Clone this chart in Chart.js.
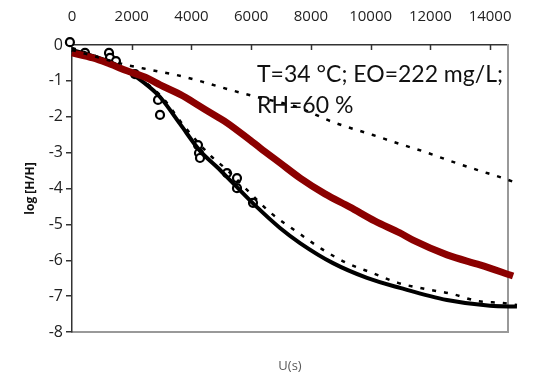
<!DOCTYPE html>
<html>
<head>
<meta charset="utf-8">
<script src="https://cdn.jsdelivr.net/npm/chart.js@4"></script>
<style>
  html, body { margin: 0; padding: 0; background: #fff; }
  #box { width: 549px; height: 379px; }
</style>
</head>
<body>
<div id="box"><canvas id="myChart"></canvas></div>
<script>
// x tick labels (top axis)
const xTicks = [0, 2000, 4000, 6000, 8000, 10000, 12000, 14000];

// model 1 (dark red band)
const redTime = [0, 700, 1270, 1840, 2510, 2950, 3720, 4050, 4860, 5190, 5960, 6300, 6970, 7640, 8470, 9310, 10150, 10980, 11420, 12560, 13660, 14770];
const redLog  = [-0.22, -0.36, -0.53, -0.72, -0.92, -1.11, -1.42, -1.59, -2.0, -2.17, -2.65, -2.87, -3.29, -3.71, -4.15, -4.52, -4.91, -5.24, -5.44, -5.85, -6.13, -6.44];

// model 2 (black solid)
const blackTime = [0, 603, 1272, 1842, 2378, 2947, 3617, 4286, 4855, 5391, 6195, 6965, 7635, 8740, 9878, 10983, 12557, 13997, 14901];
const blackLog  = [-0.14, -0.28, -0.47, -0.72, -1.03, -1.45, -2.20, -2.95, -3.40, -3.85, -4.52, -5.10, -5.52, -6.08, -6.49, -6.77, -7.11, -7.27, -7.29];

// dashed curve, upper
const dashATime = [0, 938, 1842, 2679, 3516, 4387, 5291, 6195, 7534, 8740, 10079, 10983, 11821, 12658, 13562, 14432, 14901];
const dashALog  = [-0.14, -0.36, -0.56, -0.70, -0.84, -1.03, -1.25, -1.45, -1.73, -2.15, -2.51, -2.76, -2.98, -3.23, -3.48, -3.71, -3.85];

// dashed curve, lower
const dashBTime = [0, 938, 1842, 2947, 3784, 4621, 5190, 5860, 6630, 7534, 8372, 9209, 10079, 10916, 11821, 12725, 13595, 14432, 14901];
const dashBLog  = [-0.08, -0.36, -0.72, -1.39, -2.29, -3.07, -3.48, -4.04, -4.66, -5.21, -5.69, -6.08, -6.36, -6.63, -6.80, -6.94, -7.14, -7.19, -7.25];

// measured points (open circles)
const obsTime = [-70, 435, 1239, 1272, 1473, 2110, 2880, 2947, 4219, 4253, 4286, 5190, 5525, 5525, 6061];
const obsLog  = [0.08, -0.22, -0.22, -0.36, -0.45, -0.81, -1.53, -1.95, -2.79, -3.01, -3.15, -3.57, -3.71, -3.99, -4.40];

function pairs(xs, ys) {
    return xs.map(function (x, i) { return { x: x, y: ys[i] }; });
}

// inside tick marks on the top axis + the condition text
var extras = {
    id: 'extras',
    afterDatasetsDraw: function (chart) {
        var ctx = chart.ctx;
        var xs = chart.scales.x;
        var top = chart.chartArea.top;
        ctx.save();
        ctx.strokeStyle = '#333';
        ctx.lineWidth = 1.5;
        xTicks.forEach(function (v) {
            if (v === 0) return;
            var px = Math.round(xs.getPixelForValue(v)) + 0.5;
            ctx.beginPath();
            ctx.moveTo(px, top);
            ctx.lineTo(px, top + 5);
            ctx.stroke();
        });
        ctx.fillStyle = '#111';
        ctx.font = '23px Lato, "Open Sans", sans-serif';
        ctx.textBaseline = 'alphabetic';
        ctx.fillText('T=34 °C; EO=222 mg/L;', 257, 82, 248);
        ctx.fillText('RH=60 %', 257, 113);
        ctx.restore();
    }
};

var ctx = document.getElementById('myChart').getContext('2d');
var chart = new Chart(ctx, {
    type: 'scatter',
    data: {
        datasets: [{
            data: pairs(dashATime, dashALog),
            showLine: true,
            borderColor: '#000',
            borderWidth: 2.5,
            borderDash: [4, 8],
            pointRadius: 0,
            cubicInterpolationMode: 'monotone',
            clip: false
        }, {
            data: pairs(redTime, redLog),
            showLine: true,
            borderColor: '#8b0000',
            borderWidth: 7,
            pointRadius: 0,
            cubicInterpolationMode: 'monotone',
            clip: false
        }, {
            data: pairs(dashBTime, dashBLog),
            showLine: true,
            borderColor: '#000',
            borderWidth: 2.5,
            borderDash: [4, 8],
            pointRadius: 0,
            cubicInterpolationMode: 'monotone',
            clip: false
        }, {
            data: pairs(blackTime, blackLog),
            showLine: true,
            borderColor: '#000',
            borderWidth: 4,
            pointRadius: 0,
            cubicInterpolationMode: 'monotone',
            clip: false
        }, {
            data: pairs(obsTime, obsLog),
            showLine: false,
            pointStyle: 'circle',
            pointRadius: 4,
            borderWidth: 2.2,
            borderColor: '#000',
            backgroundColor: '#fff',
            clip: false
        }]
    },
    options: {
        responsive: true,
        maintainAspectRatio: false,
        animation: false,
        layout: { padding: 0 },
        plugins: {
            legend: { display: false },
            tooltip: { enabled: false }
        },
        scales: {
            x: {
                type: 'linear',
                position: 'top',
                min: 0,
                max: 14600,
                afterBuildTicks: function (s) { s.ticks = xTicks.map(function (v) { return { value: v }; }); },
                afterFit: function (s) { s.height = 45; },
                grid: { drawOnChartArea: false, drawTicks: false },
                border: { color: '#333', width: 1.5 },
                ticks: {
                    padding: 19,
                    color: '#222',
                    maxRotation: 0,
                    callback: function (v) { return String(v); },
                    font: { family: '"Liberation Sans Narrow", "Open Sans", sans-serif', size: 15 }
                }
            },
            xb: {
                type: 'linear',
                position: 'bottom',
                min: 0,
                max: 14600,
                afterFit: function (s) { s.height = 47; },
                grid: { drawOnChartArea: false, drawTicks: false },
                border: { color: '#999', width: 2 },
                ticks: { display: false },
                title: {
                    display: true,
                    text: 'U(s)',
                    color: '#595959',
                    padding: { top: 0, bottom: 5 },
                    font: { family: '"Open Sans", sans-serif', size: 13 }
                }
            },
            y: {
                type: 'linear',
                position: 'left',
                min: -8,
                max: 0,
                afterFit: function (s) { s.width = 72; },
                grid: { drawOnChartArea: false, tickLength: 6, color: '#333', lineWidth: 1.5 },
                border: { color: '#333', width: 1.5 },
                ticks: {
                    stepSize: 1,
                    padding: 3,
                    color: '#222',
                    font: { family: '"Open Sans", sans-serif', size: 16 }
                },
                title: {
                    display: true,
                    text: 'log [H/H]',
                    color: '#111',
                    padding: { top: 23, bottom: 0 },
                    font: { family: '"Open Sans", sans-serif', size: 12, weight: 'bold' }
                }
            },
            y2: {
                type: 'linear',
                position: 'right',
                min: -8,
                max: 0,
                afterFit: function (s) { s.width = 41; },
                grid: { drawOnChartArea: false, drawTicks: false },
                border: { color: '#999', width: 2 },
                ticks: { display: false }
            }
        }
    },
    plugins: [extras]
});
</script>
</body>
</html>
